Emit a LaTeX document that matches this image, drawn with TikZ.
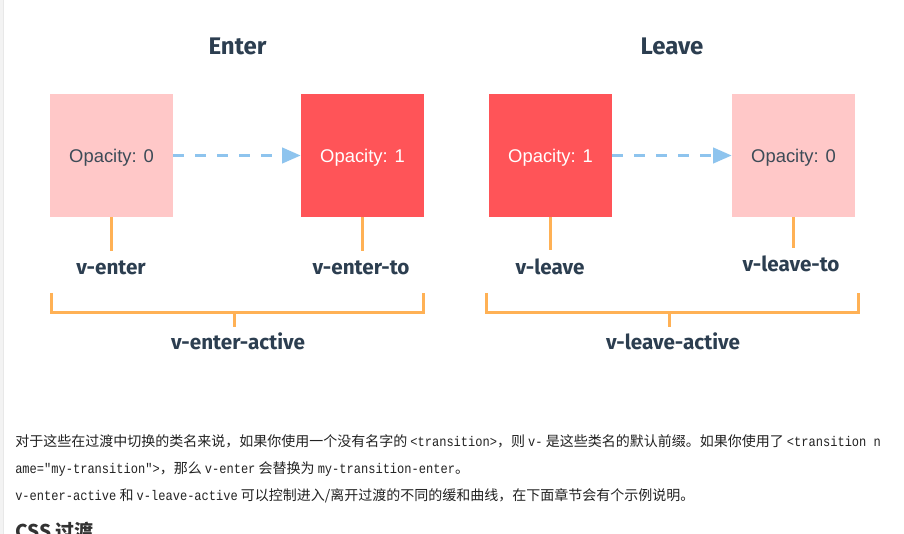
\documentclass[tikz,border=0pt]{standalone}
\usepackage{fontspec}
\usetikzlibrary{arrows.meta}
\newfontfamily\labfont{Fira Sans}
\newfontfamily\opfont{Liberation Sans}
\newfontfamily\cjk{Noto Sans CJK SC}
\newfontfamily\code{Liberation Mono}[FakeStretch=0.86]
\definecolor{pinkc}{HTML}{FFC8C8}
\definecolor{redc}{HTML}{FF5458}
\definecolor{optxt}{HTML}{3D4B57}
\definecolor{labc}{HTML}{2C3E50}
\definecolor{orangec}{HTML}{FFB155}
\definecolor{bluec}{HTML}{8EC4EE}
\definecolor{stripc}{HTML}{F3F3F3}
\definecolor{stripl}{HTML}{E8E8E8}
\definecolor{bodyc}{HTML}{222222}
\tikzset{
  box/.style={rectangle, inner sep=0pt, minimum width=92.25pt, minimum height=92.25pt, text depth=0pt,
    font=\opfont\fontsize{13.8pt}{16pt}\selectfont},
  pinkbox/.style={box, fill=pinkc, text=optxt},
  redbox/.style={box, fill=redc, text=white},
  lab/.style={inner sep=0pt, anchor=base, text=labc, font=\labfont\bfseries\fontsize{15.5pt}{18pt}\selectfont},
  ttl/.style={inner sep=0pt, anchor=base, text=labc, font=\labfont\bfseries\fontsize{18pt}{21pt}\selectfont},
  tick/.style={draw=orangec, line width=2.25pt},
  flow/.style={draw=bluec, line width=2.4pt, dash pattern=on 8.25pt off 8.25pt,
    -{Triangle[length=14pt,width=11.5pt]}},
  bodytext/.style={inner sep=0pt, anchor=base west, text=bodyc, font=\cjk\fontsize{10.5pt}{12pt}\selectfont},
}
\begin{document}
\begin{tikzpicture}[x=0.75pt,y=-0.75pt]
\useasboundingbox (0,0) rectangle (904,534);
\clip (0,0) rectangle (904,534);
\fill[white] (0,0) rectangle (904,534);
\fill[stripc] (0,0) rectangle (3.5,534);
\draw[stripl, line width=0.5pt] (3.5,0) -- (3.5,534);

% titles
\node[ttl] (tenter) at (237.5,55) {Enter};
\node[ttl] (tleave) at (672,55) {Leave};

% boxes
\node[pinkbox] (b1) at (111.5,155.5) {Opacity: 0};
\node[redbox]  (b2) at (362.5,155.5) {Opacity: 1};
\node[redbox]  (b3) at (550.5,155.5) {Opacity: 1};
\node[pinkbox] (b4) at (793.5,155.5) {Opacity: 0};

% arrows
\draw[flow] (b1.east) -- (b2.west);
\draw[flow] (b3.east) -- (b4.west);

% ticks
\coordinate (t1) at (111.5,251);
\coordinate (t2) at (362.5,251);
\coordinate (t3) at (550.5,250);
\coordinate (t4) at (793.5,248);
\draw[tick] (b1.south) -- (t1);
\draw[tick] (b2.south) -- (t2);
\draw[tick] (b3.south) -- (t3);
\draw[tick] (b4.south) -- (t4);

% labels
\node[lab] (l1) at (111,275) {v-enter};
\node[lab] (l2) at (361,275) {v-enter-to};
\node[lab] (l3) at (550,275) {v-leave};
\node[lab] (l4) at (791,272) {v-leave-to};

% brackets
\coordinate (bl1) at (51,293);
\coordinate (bc1) at (234,313);
\coordinate (br1) at (423,293);
\coordinate (bt1) at (234,327);
\draw[tick] (bl1) |- (bc1) -| (br1);
\draw[tick] (bc1) -- (bt1);
\coordinate (bl2) at (486,293);
\coordinate (bc2) at (669,313);
\coordinate (br2) at (858,293);
\coordinate (bt2) at (669,327);
\draw[tick] (bl2) |- (bc2) -| (br2);
\draw[tick] (bc2) -- (bt2);
\node[lab] (a1) at (238,350) {v-enter-active};
\node[lab] (a2) at (673,350) {v-leave-active};

% body text
\node[bodytext] (p1) at (15,446.5) {对于这些在过渡中切换的类名来说，如果你使用一个没有名字的 {\code <transition>}，则 {\code v-} 是这些类名的默认前缀。如果你使用了 {\code <transition n}};
\node[bodytext] (p2) at (15,473.5) {{\code ame="my-transition">}，那么 {\code v-enter} 会替换为 {\code my-transition-enter}。};
\node[bodytext] (p3) at (15,501) {{\code v-enter-active} 和 {\code v-leave-active} 可以控制进入/离开过渡的不同的缓和曲线，在下面章节会有个示例说明。};
\node[bodytext, text=black!80, font=\cjk\bfseries\fontsize{14.25pt}{16pt}\selectfont] (h1) at (15,539) {CSS 过渡};
\end{tikzpicture}
\end{document}
